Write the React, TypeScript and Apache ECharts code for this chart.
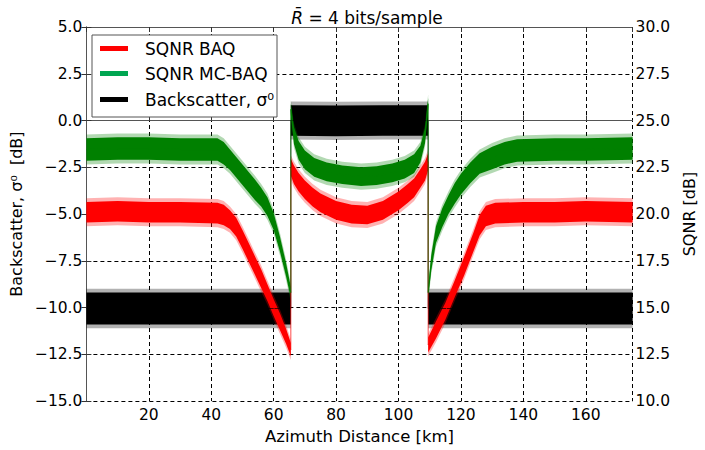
import React, { useEffect, useRef } from "react";
import * as echarts from "echarts";

// ---------- texts ----------
const xName = "Azimuth Distance [km]";
const yLeftName = "Backscatter, σ⁰  [dB]";
const yRightName = "SQNR [dB]";
const legendNames = ["SQNR BAQ", "SQNR MC-BAQ", "Backscatter, σ⁰"];

// ---------- SQNR BAQ (red, right axis, dB): centre and half-width of the noisy band ----------
const redX1 = [0, 10, 20, 30, 42, 44, 46, 48, 50, 52, 54, 56, 58, 60, 62, 64, 65.5];
const redMid1 = [20.1, 20.15, 20.1, 20.1, 20.05, 19.95, 19.7, 19.3, 18.65, 17.95, 17.25, 16.55, 15.8, 15.0, 14.25, 13.45, 12.75];
const redHalf1 = [0.55, 0.55, 0.55, 0.55, 0.55, 0.55, 0.5, 0.5, 0.5, 0.5, 0.5, 0.5, 0.45, 0.45, 0.45, 0.4, 0.35];

const redX2 = [65.5, 66.5, 68, 70, 72.5, 75, 80, 85, 90, 95, 100, 103, 105, 107, 108.5, 109.5];
const redMid2 = [22.5, 22.1, 21.7, 21.3, 20.9, 20.6, 20.2, 20.0, 19.95, 20.2, 20.7, 21.1, 21.4, 21.9, 22.3, 22.8];
const redHalf2 = [0.45, 0.5, 0.5, 0.5, 0.5, 0.5, 0.5, 0.5, 0.5, 0.5, 0.5, 0.5, 0.5, 0.5, 0.5, 0.45];

const redX3 = [109.5, 112, 115, 118, 121, 124, 126, 128, 131, 140, 150, 160, 175];
const redMid3 = [13.0, 13.8, 14.8, 16.0, 17.2, 18.5, 19.4, 19.9, 20.05, 20.1, 20.1, 20.15, 20.1];
const redHalf3 = [0.4, 0.45, 0.45, 0.45, 0.5, 0.5, 0.55, 0.55, 0.55, 0.55, 0.55, 0.55, 0.55];

// ---------- SQNR MC-BAQ (green, right axis, dB) ----------
const greenX1 = [0, 10, 20, 30, 42, 44, 46, 48, 50, 52, 54, 56, 58, 60, 62, 64, 65.5];
const greenMid1 = [23.45, 23.5, 23.5, 23.45, 23.45, 23.25, 22.9, 22.5, 22.1, 21.7, 21.3, 20.9, 20.4, 19.6, 18.4, 17.0, 15.8];
const greenHalf1 = [0.6, 0.6, 0.6, 0.6, 0.6, 0.6, 0.55, 0.55, 0.55, 0.55, 0.55, 0.5, 0.5, 0.45, 0.4, 0.35, 0.3];

const greenX2 = [65.5, 66.5, 68, 70, 73, 77, 82, 88, 93, 98, 102, 105, 107, 108.5, 109.5];
const greenMid2 = [25.6, 24.2, 23.4, 22.9, 22.5, 22.25, 22.1, 22.0, 22.05, 22.2, 22.4, 22.7, 23.2, 24.2, 25.9];
const greenHalf2 = [0.3, 0.45, 0.5, 0.5, 0.5, 0.5, 0.5, 0.5, 0.5, 0.5, 0.5, 0.5, 0.45, 0.4, 0.3];

const greenX3 = [109.5, 110.5, 112, 114, 116, 118, 120, 123, 126, 130, 134, 138, 150, 160, 175];
const greenMid3 = [15.8, 17.4, 18.9, 19.8, 20.5, 21.1, 21.6, 22.2, 22.7, 23.0, 23.25, 23.4, 23.45, 23.45, 23.5];
const greenHalf3 = [0.3, 0.4, 0.45, 0.5, 0.5, 0.55, 0.55, 0.55, 0.55, 0.6, 0.6, 0.6, 0.6, 0.6, 0.6];

// ---------- Backscatter sigma0 (black, left axis, dB) ----------
const blackX1 = [0, 20, 40, 65.5];
const blackMid1 = [-10.05, -10.05, -10.05, -10.05];
const blackHalf1 = [0.85, 0.85, 0.85, 0.85];

const blackX2 = [65.5, 80, 95, 109.5];
const blackMid2 = [0.0, -0.02, 0.0, 0.0];
const blackHalf2 = [0.82, 0.82, 0.82, 0.82];

const blackX3 = [109.5, 130, 150, 175];
const blackMid3 = [-10.05, -10.05, -10.05, -10.05];
const blackHalf3 = [0.85, 0.85, 0.85, 0.85];

// ---------- axes ----------
const xMin = 0;
const xMax = 175;
const xStep = 20;
const leftMin = -15;
const leftMax = 5;
const rightMin = 10;
const rightMax = 30;
const yStep = 2.5;

const RED = "#ff0000";
const GREEN = "#008000";
const BLACK = "#000000";
const LEGEND_COLORS = ["#ff0000", "#00a651", "#000000"];
const FONT = "DejaVu Sans";

type Seg = { x: number[]; mid: number[]; half: number[] };

function bandSeries(name: string, color: string, yAxisIndex: number, seg: Seg, extra: number, opacity: number) {
  const data = seg.x.map((x, i) => [x, seg.mid[i] - seg.half[i] - extra, seg.mid[i] + seg.half[i] + extra]);
  return {
    name,
    type: "custom",
    yAxisIndex,
    silent: true,
    color,
    encode: { x: 0, y: [1, 2] },
    data,
    renderItem: (params: any, api: any) => {
      if (params.dataIndex !== 0) return null;
      const upper = data.map((d) => api.coord([d[0], d[2]]));
      const lower = data.map((d) => api.coord([d[0], d[1]])).reverse();
      return {
        type: "polygon",
        shape: { points: upper.concat(lower) },
        style: { fill: color, opacity },
      };
    },
  };
}

function groupSeries(name: string, color: string, yAxisIndex: number, segs: Seg[]) {
  const out: any[] = [];
  segs.forEach((s) => {
    out.push(bandSeries(name, color, yAxisIndex, s, 0.2, 0.3));
    out.push(bandSeries(name, color, yAxisIndex, s, 0, 1));
  });
  const line: number[][] = [];
  segs.forEach((s) => s.x.forEach((x, i) => line.push([x, s.mid[i]])));
  out.push({
    name,
    type: "line",
    yAxisIndex,
    symbol: "none",
    silent: true,
    color,
    lineStyle: { width: 1, color, opacity: 0.7 },
    data: line,
  });
  return out;
}

const fmt = (v: number) => v.toFixed(1).replace("-", "\u2212");

export default function App() {
  const ref = useRef<HTMLDivElement>(null);
  useEffect(() => {
    if (!ref.current) return;
    const chart = echarts.init(ref.current, undefined, { renderer: "svg" });
    const series = [
      ...groupSeries(legendNames[2], BLACK, 0, [
        { x: blackX1, mid: blackMid1, half: blackHalf1 },
        { x: blackX2, mid: blackMid2, half: blackHalf2 },
        { x: blackX3, mid: blackMid3, half: blackHalf3 },
      ]),
      ...groupSeries(legendNames[0], RED, 1, [
        { x: redX1, mid: redMid1, half: redHalf1 },
        { x: redX2, mid: redMid2, half: redHalf2 },
        { x: redX3, mid: redMid3, half: redHalf3 },
      ]),
      ...groupSeries(legendNames[1], GREEN, 1, [
        { x: greenX1, mid: greenMid1, half: greenHalf1 },
        { x: greenX2, mid: greenMid2, half: greenHalf2 },
        { x: greenX3, mid: greenMid3, half: greenHalf3 },
      ]),
    ];

    const axisLine = { show: true, lineStyle: { color: "#555", width: 1 } };
    const tick = { show: true, inside: true, length: 5, lineStyle: { color: "#333" } };
    const grid = { show: true, lineStyle: { color: "#000", type: [4, 3], width: 1 } };
    const label = { color: "#000", fontSize: 15.5, fontFamily: FONT };

    const legendRows = [48.5, 73.5, 99.5];
    const legendGraphics: any[] = [
      {
        type: "rect",
        shape: { x: 92, y: 35, width: 185, height: 82 },
        style: { fill: "#fff", stroke: "#555", lineWidth: 1 },
        z: 100,
      },
    ];
    legendNames.forEach((n, i) => {
      legendGraphics.push({
        type: "rect",
        shape: { x: 100, y: legendRows[i] - 2.5, width: 28, height: 5 },
        style: { fill: LEGEND_COLORS[i] },
        z: 101,
      });
      legendGraphics.push({
        type: "text",
        x: 145,
        y: legendRows[i],
        style: {
          text: n,
          fill: "#000",
          font: `17px "${FONT}"`,
          verticalAlign: "middle",
          align: "left",
        },
        z: 101,
      });
    });

    chart.setOption({
      animation: false,
      backgroundColor: "#fff",
      title: {
        text: "{r|R̄} = 4 bits/sample",
        left: 362,
        textAlign: "center",
        top: 4,
        textStyle: {
          fontSize: 17,
          fontWeight: "normal",
          fontFamily: FONT,
          color: "#000",
          rich: {
            r: { fontSize: 17, fontStyle: "italic", fontFamily: FONT, color: "#000" },
          },
        },
      },
      grid: { left: 83, right: 68, top: 27, bottom: 43, containLabel: false },
      xAxis: [
        {
          type: "value",
          min: xMin,
          max: xMax,
          interval: xStep,
          position: "bottom",
          name: xName,
          nameLocation: "middle",
          nameGap: 22,
          nameTextStyle: { fontSize: 16.5, fontFamily: FONT, color: "#000" },
          axisLine,
          axisTick: tick,
          splitLine: grid,
          axisLabel: { ...label, margin: 6, showMinLabel: false, showMaxLabel: false },
        },
        {
          type: "value",
          min: xMin,
          max: xMax,
          interval: xStep,
          position: "top",
          axisLine,
          axisTick: tick,
          splitLine: { show: false },
          axisLabel: { show: false },
        },
      ],
      yAxis: [
        {
          type: "value",
          min: leftMin,
          max: leftMax,
          interval: yStep,
          position: "left",
          name: yLeftName,
          nameLocation: "middle",
          nameRotate: 90,
          nameGap: 55,
          nameTextStyle: { fontSize: 16, fontFamily: FONT, color: "#000" },
          axisLine,
          axisTick: tick,
          splitLine: grid,
          axisLabel: { ...label, margin: 4, formatter: fmt },
        },
        {
          type: "value",
          min: rightMin,
          max: rightMax,
          interval: yStep,
          position: "right",
          name: yRightName,
          nameLocation: "middle",
          nameRotate: 90,
          nameGap: 36,
          nameTextStyle: { fontSize: 16, fontFamily: FONT, color: "#000" },
          axisLine,
          axisTick: tick,
          splitLine: { show: false },
          axisLabel: { ...label, margin: 3, formatter: fmt },
        },
      ],
      graphic: legendGraphics,
      series,
    });
    return () => chart.dispose();
  }, []);
  return (
    <div
      ref={ref}
      style={{ position: "absolute", left: 0, top: 0, width: 705, height: 450, background: "#fff" }}
    />
  );
}
